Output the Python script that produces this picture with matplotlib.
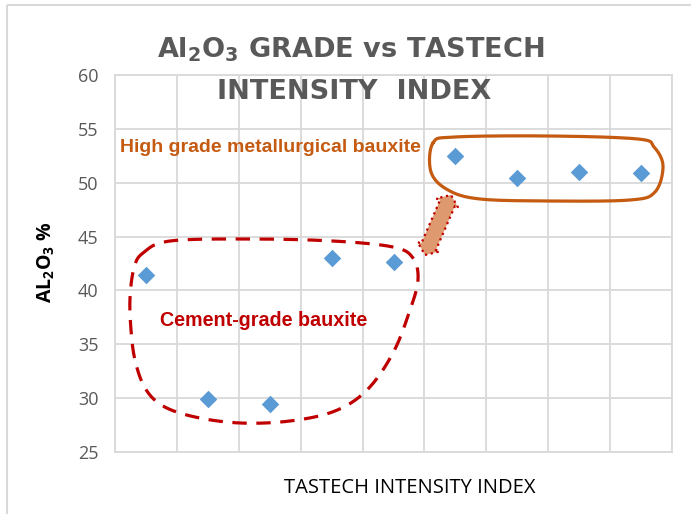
import numpy as np
import matplotlib
matplotlib.use("Agg")
import matplotlib.pyplot as plt
from matplotlib.patches import Polygon, Rectangle
from matplotlib.transforms import Affine2D

# data
tastech_index = [1, 2, 3, 4, 5, 6, 7, 8, 9]
al2o3_grade = [41.4, 29.9, 29.5, 43.0, 42.6, 52.5, 50.4, 51.0, 50.9]
y_ticks = [25, 30, 35, 40, 45, 50, 55, 60]

W, H = 691, 514

plt.rcParams['mathtext.fontset'] = 'custom'
plt.rcParams['mathtext.rm'] = 'Open Sans'
plt.rcParams['mathtext.bf'] = 'Open Sans:bold'

fig = plt.figure(figsize=(W / 100, H / 100), dpi=100)
ax = fig.add_axes([115 / W, 1 - 452 / H, (672 - 115) / W, (452 - 75) / H])

# pixel coords of the reference -> figure coords
px = Affine2D().scale(1 / W, -1 / H).translate(0, 1) + fig.transFigure


def smooth_closed(pts, n=30):
    # Catmull-Rom through the outline points
    pts = np.asarray(pts, float)
    out = []
    k = len(pts)
    for i in range(k):
        p0, p1, p2, p3 = pts[i - 1], pts[i], pts[(i + 1) % k], pts[(i + 2) % k]
        for t in np.linspace(0, 1, n, endpoint=False):
            t2, t3 = t * t, t * t * t
            out.append(0.5 * ((2 * p1) + (-p0 + p2) * t + (2 * p0 - 5 * p1 + 4 * p2 - p3) * t2
                              + (-p0 + 3 * p1 - 3 * p2 + p3) * t3))
    out.append(out[0])
    return np.array(out)


ax.scatter(tastech_index, al2o3_grade, marker='D', s=80, color='#5B9BD5', zorder=3, linewidths=0)

ax.set_xlim(0.5, 9.5)
ax.set_ylim(25, 60)
ax.set_xticks(np.arange(0.5, 10, 1))
ax.set_xticklabels([])
ax.set_yticks(y_ticks)
ax.tick_params(length=0, labelsize=13, labelcolor='#595959', pad=12)
for lab in ax.get_yticklabels():
    lab.set_fontfamily('Open Sans')
ax.grid(True, color='#D9D9D9', lw=1.3)
for s in ax.spines.values():
    s.set_color('#D9D9D9')
    s.set_linewidth(1.3)

# titles and labels
title_font = dict(fontsize=19.5, fontweight='bold', color='#595959', family='DejaVu Sans',
                  math_fontfamily='dejavusans')
fig.text(351 / W, 1 - 50 / H, r'Al$_\mathbf{2}$O$_\mathbf{3}$ GRADE vs TASTECH', ha='center', va='center',
         **title_font)
fig.text(354 / W, 1 - 92 / H, 'INTENSITY  INDEX', ha='center', va='center', **title_font)
fig.text(46 / W, 1 - 262 / H, r'AL$_\mathbf{2}$O$_\mathbf{3}$ %', rotation=90, ha='center', va='center',
         fontsize=14, fontweight='bold', color='black', family='Open Sans')
fig.text(410 / W, 1 - 488 / H, 'TASTECH INTENSITY INDEX', ha='center', va='center',
         fontsize=14.5, color='black', family='Open Sans')

fig.text(120 / W, 1 - 147 / H, 'High grade metallurgical bauxite', ha='left', va='center',
         fontsize=14, fontweight='bold', color='#C55A11', family='Liberation Sans')
fig.text(160 / W, 1 - 320 / H, 'Cement-grade bauxite', ha='left', va='center',
         fontsize=14.2, fontweight='bold', color='#C00000', family='Liberation Sans')

# dashed loop around cement grade points
cement_loop = [(143, 253), (170, 241), (250, 239), (333, 241), (393, 247), (413, 258), (418, 280),
               (410, 310), (393, 353), (367, 390), (335, 411), (290, 421), (240, 423), (195, 417),
               (163, 406), (145, 388), (135, 360), (131, 330), (130, 298), (134, 268)]
c = smooth_closed(cement_loop)
fig.add_artist(plt.Line2D(c[:, 0], c[:, 1], transform=px, color='#C00000', lw=2.3,
                          linestyle=(0, (4.5, 3))))

# solid loop around high grade points
high_loop = [(433, 143), (455, 137), (550, 136), (638, 139), (654, 147), (663, 166), (655, 192),
             (630, 200), (550, 201), (480, 199), (448, 190), (431, 172)]
h = smooth_closed(high_loop)
fig.add_artist(plt.Line2D(h[:, 0], h[:, 1], transform=px, color='#C55A11', lw=2.3))

# double-headed block arrow
p0 = np.array([425.0, 255.0])
p1 = np.array([451.0, 195.0])
u = (p1 - p0) / np.linalg.norm(p1 - p0)
nrm = np.array([-u[1], u[0]])
hl, sw, hw = 9.0, 8.0, 12.0
arrow = [p0, p0 + u * hl + nrm * hw, p0 + u * hl + nrm * sw, p1 - u * hl + nrm * sw, p1 - u * hl + nrm * hw,
         p1, p1 - u * hl - nrm * hw, p1 - u * hl - nrm * sw, p0 + u * hl - nrm * sw, p0 + u * hl - nrm * hw]
fig.add_artist(Polygon(arrow, closed=True, transform=px, facecolor='#DE9A6E', edgecolor='#C00000',
                       lw=1.6, linestyle=':'))

# chart border
fig.add_artist(Rectangle((7, 5), W, H, transform=px, fill=False, edgecolor='#D9D9D9', lw=1.5))

fig.savefig('out.png', dpi=100)
